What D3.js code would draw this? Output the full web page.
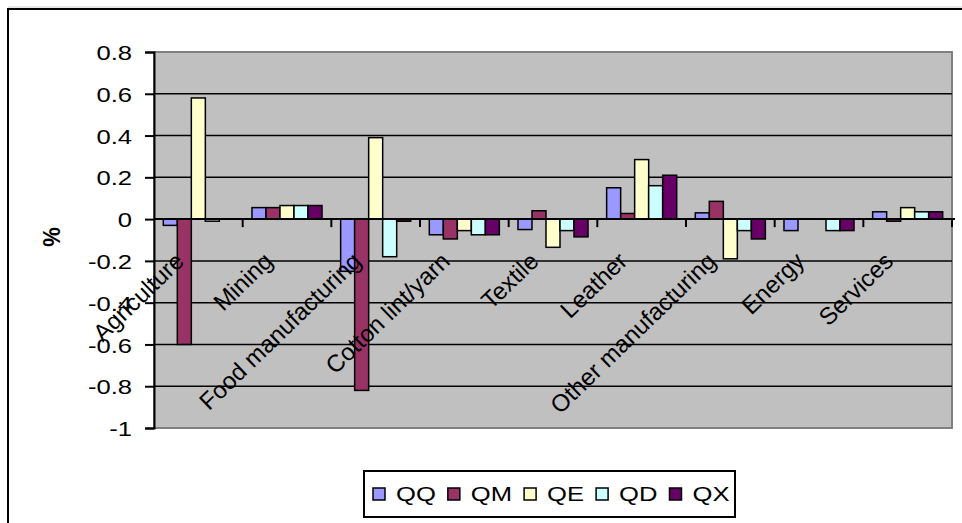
<!DOCTYPE html>
<html>
<head>
<meta charset="utf-8">
<script src="https://cdn.jsdelivr.net/npm/d3@7"></script>
<style>
  body { margin: 0; background: #fff; }
  text { font-family: "Liberation Sans", Arial, sans-serif; fill: #000; }
</style>
</head>
<body>
<div id="chart"></div>
<script>
var categories = ["Agriculture", "Mining", "Food manufacturing", "Cotton lint/yarn", "Textile",
                  "Leather", "Other manufacturing", "Energy", "Services"];
var seriesNames = ["QQ", "QM", "QE", "QD", "QX"];
var colors = ["#9999FF", "#993366", "#FFFFCC", "#CCFFFF", "#660066"];

var QQ = [-0.03, 0.055, -0.25, -0.075, -0.05, 0.15, 0.03, -0.055, 0.035];
var QM = [-0.6, 0.055, -0.82, -0.095, 0.04, 0.027, 0.085, 0, -0.01];
var QE = [0.58, 0.065, 0.39, -0.055, -0.135, 0.285, -0.19, 0, 0.055];
var QD = [-0.01, 0.065, -0.18, -0.075, -0.055, 0.16, -0.055, -0.055, 0.035];
var QX = [0, 0.065, -0.01, -0.075, -0.085, 0.21, -0.095, -0.055, 0.035];
var yTicks = [0.8, 0.6, 0.4, 0.2, 0, -0.2, -0.4, -0.6, -0.8, -1];

var seriesValues = [QQ, QM, QE, QD, QX];

function init(){
    var w = 962, h = 523;
    var left = 154, right = 952, top = 52, bottom = 428;
    var stretch = 1.22;

    var svg = d3.select("#chart").append("svg")
        .attr("width", w)
        .attr("height", h);

    // outer chart frame (runs off the image at right and bottom)
    svg.append("line")
        .attr("x1", 8).attr("x2", w).attr("y1", 7).attr("y2", 7)
        .attr("stroke", "#cfcfcf").attr("stroke-width", 1);
    svg.append("rect")
        .attr("x", 8).attr("y", 9)
        .attr("width", 1100).attr("height", 700)
        .attr("fill", "none")
        .attr("stroke", "#000")
        .attr("stroke-width", 2);

    var xScale = d3.scaleBand()
        .domain(categories)
        .range([left, right]);

    var bw = xScale.bandwidth();
    var gap = bw * 0.105;
    var x1 = d3.scaleBand()
        .domain(seriesNames)
        .range([gap, bw - gap]);

    var yScale = d3.scaleLinear()
        .domain([-1, 0.8])
        .range([bottom, top]);

    // plot area
    svg.append("rect")
        .attr("x", left).attr("y", top)
        .attr("width", right - left).attr("height", bottom - top)
        .attr("fill", "#C0C0C0")
        .attr("stroke", "#808080")
        .attr("stroke-width", 2);

    // gridlines
    svg.append("g")
        .selectAll("line")
        .data(yTicks.filter(function(d){ return d > -1 && d < 0.8; }))
        .enter().append("line")
        .attr("x1", left).attr("x2", right)
        .attr("y1", function(d){ return yScale(d); })
        .attr("y2", function(d){ return yScale(d); })
        .attr("stroke", "#000")
        .attr("stroke-width", 1.5);

    // bars
    var rows = [];
    categories.forEach(function(c, i){
        seriesNames.forEach(function(s, j){
            rows.push({cat: c, series: s, value: seriesValues[j][i], color: colors[j]});
        });
    });

    svg.append("g")
        .selectAll("rect")
        .data(rows.filter(function(d){ return d.value !== 0; }))
        .enter().append("rect")
        .attr("x", function(d){ return xScale(d.cat) + x1(d.series); })
        .attr("y", function(d){ return yScale(Math.max(0, d.value)); })
        .attr("width", x1.bandwidth())
        .attr("height", function(d){ return Math.abs(yScale(d.value) - yScale(0)); })
        .attr("fill", function(d){ return d.color; })
        .attr("stroke", "#000")
        .attr("stroke-width", 1.5);

    // category axis at zero
    svg.append("line")
        .attr("x1", left).attr("x2", right + 3)
        .attr("y1", yScale(0)).attr("y2", yScale(0))
        .attr("stroke", "#000").attr("stroke-width", 2);

    svg.append("g")
        .selectAll("line")
        .data(categories)
        .enter().append("line")
        .attr("x1", function(d){ return xScale(d) + bw; })
        .attr("x2", function(d){ return xScale(d) + bw; })
        .attr("y1", yScale(0))
        .attr("y2", yScale(0) + 8)
        .attr("stroke", "#000").attr("stroke-width", 2);

    svg.append("g")
        .selectAll("text")
        .data(categories)
        .enter().append("text")
        .attr("transform", function(d){
            return "translate(" + (xScale(d) + bw / 2 - 13) + "," + 263 + ") rotate(-44)";
        })
        .attr("text-anchor", "end")
        .style("font-size", "24px")
        .text(function(d){ return d; });

    // value axis
    var yAxis = d3.axisLeft(yScale)
        .tickValues(yTicks)
        .tickSize(9)
        .tickFormat(function(d){ return String(d); });

    var gy = svg.append("g")
        .attr("transform", "translate(" + left + ",0)")
        .call(yAxis);
    gy.select(".domain").attr("stroke", "#000").attr("stroke-width", 2);
    gy.selectAll(".tick line").attr("stroke", "#000").attr("stroke-width", 2);
    gy.selectAll(".tick text")
        .attr("x", -18)
        .attr("dy", "0.36em")
        .attr("transform", "scale(" + stretch + ",1)")
        .style("font-size", "21px")
        .style("font-family", "'Liberation Sans', Arial, sans-serif")
        .attr("fill", "#000");

    svg.append("text")
        .attr("transform", "translate(60,237) rotate(-90) scale(1,1.1)")
        .attr("text-anchor", "middle")
        .style("font-size", "22px")
        .style("font-weight", "bold")
        .text("%");

    // legend
    var legend = svg.append("g");
    legend.append("rect")
        .attr("x", 364).attr("y", 471)
        .attr("width", 371).attr("height", 46)
        .attr("fill", "#fff")
        .attr("stroke", "#000")
        .attr("stroke-width", 2);

    var cx = 373;
    seriesNames.forEach(function(s, j){
        legend.append("rect")
            .attr("x", cx).attr("y", 488)
            .attr("width", 12).attr("height", 12)
            .attr("fill", colors[j])
            .attr("stroke", "#000")
            .attr("stroke-width", 1.5);
        var t = legend.append("text")
            .attr("transform", "translate(" + (cx + 23) + ",501) scale(" + stretch + ",1)")
            .style("font-size", "21px")
            .text(s);
        cx = cx + 23 + t.node().getComputedTextLength() * stretch + 12;
    });
}
window.onload = init;
</script>
</body>
</html>
